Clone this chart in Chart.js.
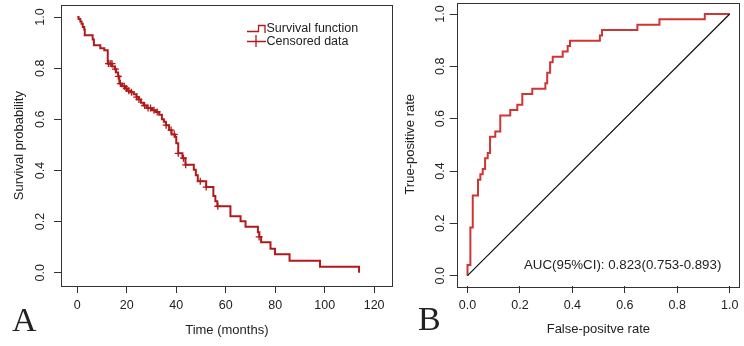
<!DOCTYPE html>
<html><head><meta charset="utf-8">
<script src="https://cdn.jsdelivr.net/npm/chart.js@4/dist/chart.umd.min.js"></script>
<style>
html,body{margin:0;padding:0;background:#fff;}
#wrap{position:relative;width:744px;height:346px;overflow:hidden;background:#fff;}
#cA{position:absolute;left:0;top:0;}
#cB{position:absolute;left:398px;top:0;}
</style></head><body>
<div id="wrap"><canvas id="cA" width="398" height="346"></canvas><canvas id="cB" width="346" height="346"></canvas></div>
<script>
// ---- Panel A: Kaplan-Meier survival ----
const kmTimes = [0, 0.5, 1.2, 1.7, 2.2, 2.8, 3.0, 6.2, 6.7, 9.3, 10.9, 12.3, 14.1, 15.2, 15.7, 16.5, 17.0, 18.1, 19.4, 20.2, 21.5, 22.8, 23.9, 24.7, 25.7, 26.8, 28.1, 30.2, 31.8, 33.1, 34.2, 35.0, 35.8, 37.1, 38.1, 39.5, 40.0, 40.8, 42.5, 43.7, 47.1, 47.9, 48.7, 52.1, 55.0, 55.8, 56.6, 61.9, 66.0, 68.0, 73.0, 73.6, 74.3, 78.1, 79.9, 85.8, 98.1, 113.9];
const kmSurv  = [1.0, 0.992, 0.983, 0.974, 0.961, 0.951, 0.929, 0.912, 0.890, 0.878, 0.870, 0.818, 0.807, 0.796, 0.783, 0.768, 0.740, 0.729, 0.721, 0.712, 0.706, 0.698, 0.687, 0.678, 0.665, 0.654, 0.644, 0.635, 0.629, 0.618, 0.600, 0.590, 0.577, 0.558, 0.541, 0.532, 0.506, 0.467, 0.448, 0.422, 0.403, 0.381, 0.358, 0.335, 0.300, 0.280, 0.260, 0.221, 0.201, 0.180, 0.158, 0.140, 0.119, 0.094, 0.072, 0.047, 0.023, 0.0];
const censorTimes = [12.6, 13.3, 14.0, 15.4, 16.6, 17.4, 19.0, 19.8, 20.8, 21.9, 24.0, 24.9, 27.2, 28.6, 29.6, 31.0, 32.3, 35.9, 37.9, 39.2, 40.8, 42.9, 43.8, 49.7, 52.1, 56.8, 73.5];
const censorSurv  = [0.818, 0.818, 0.818, 0.796, 0.768, 0.740, 0.729, 0.721, 0.712, 0.706, 0.687, 0.678, 0.654, 0.644, 0.644, 0.635, 0.629, 0.577, 0.558, 0.541, 0.467, 0.448, 0.422, 0.358, 0.335, 0.260, 0.140];
const timeTicks = [0, 20, 40, 60, 80, 100, 120];
const probTicks = [0, 0.2, 0.4, 0.6, 0.8, 1.0];
const legendLabels = ['Survival function', 'Censored data'];

// ---- Panel B: ROC ----
const rocFPR = [0, 0.011, 0.020, 0.040, 0.049, 0.058, 0.067, 0.077, 0.086, 0.106, 0.125, 0.163, 0.190, 0.209, 0.247, 0.297, 0.304, 0.315, 0.325, 0.363, 0.382, 0.391, 0.505, 0.513, 0.648, 0.732, 0.905, 1.0];
const rocTPR = [0, 0.041, 0.184, 0.306, 0.367, 0.388, 0.408, 0.449, 0.469, 0.531, 0.551, 0.612, 0.633, 0.653, 0.694, 0.714, 0.735, 0.776, 0.816, 0.837, 0.857, 0.878, 0.898, 0.918, 0.939, 0.959, 0.980, 1.0];
const refFPR = [0, 1];
const refTPR = [0, 1];
const rateTicks = [0, 0.2, 0.4, 0.6, 0.8, 1.0];
const aucText = 'AUC(95%CI): 0.823(0.753-0.893)';

const TXT = '#222';
const AXC = '#333';
const KMC = '#b11a1a';
const ROCC = '#d03535';
const SANS = '"Liberation Sans", Arial, sans-serif';
const SERIF = '"Liberation Serif", "Times New Roman", serif';
Chart.defaults.font.family = SANS;
Chart.defaults.color = TXT;

const pts = (xs, ys) => xs.map((x, i) => ({x: x, y: ys[i]}));

const boxPlugin = {
  id: 'box',
  afterDatasetsDraw(chart) {
    const a = chart.chartArea, c = chart.ctx;
    c.save();
    c.strokeStyle = AXC; c.lineWidth = 1;
    c.strokeRect(Math.round(a.left) + 0.5, Math.round(a.top) + 0.5, Math.round(a.right - a.left) - 1, Math.round(a.bottom - a.top));
    c.restore();
  }
};

function axisX(min, max, tickVals, fmt, title, titlePadBottom) {
  return {
    type: 'linear', min: min, max: max,
    afterBuildTicks(s) { s.ticks = tickVals.map(v => ({value: v})); },
    afterFit(s) { s.height = 60; s.paddingLeft = 0; s.paddingRight = 0; s.paddingTop = 0; s.paddingBottom = 0; },
    grid: { drawOnChartArea: false, drawTicks: true, tickLength: 7, color: AXC, lineWidth: 1 },
    border: { display: false },
    ticks: { font: { size: 12.5 }, color: TXT, padding: 5.5, maxRotation: 0, minRotation: 0, autoSkip: false, callback: fmt },
    title: { display: true, text: title, font: { size: 13 }, color: TXT, padding: { top: 0, bottom: titlePadBottom } }
  };
}
function axisY(min, max, tickVals, width, tickPad, title, titlePadTop) {
  return {
    type: 'linear', min: min, max: max,
    afterBuildTicks(s) { s.ticks = tickVals.map(v => ({value: v})); },
    afterFit(s) { s.width = width; s.paddingLeft = 0; s.paddingRight = 0; s.paddingTop = 0; s.paddingBottom = 0; },
    grid: { drawOnChartArea: false, drawTicks: true, tickLength: 7, color: AXC, lineWidth: 1 },
    border: { display: false },
    ticks: { font: { size: 12.5 }, color: TXT, padding: tickPad, minRotation: 90, maxRotation: 90, crossAlign: 'center', autoSkip: false, callback: v => Number(v).toFixed(1) },
    title: { display: true, text: title, font: { size: 13 }, color: TXT, padding: { top: titlePadTop, bottom: 0 } }
  };
}

const decorA = {
  id: 'decorA',
  afterDraw(chart) {
    const c = chart.ctx;
    c.save();
    // legend
    c.strokeStyle = KMC; c.lineWidth = 1.3;
    c.beginPath();
    c.moveTo(247, 31.5); c.lineTo(258.5, 31.5); c.lineTo(258.5, 25.5); c.lineTo(265, 25.5); c.lineTo(265, 33);
    c.stroke();
    c.beginPath();
    c.moveTo(247, 41.5); c.lineTo(266, 41.5);
    c.moveTo(256, 35); c.lineTo(256, 47);
    c.stroke();
    c.fillStyle = TXT; c.font = '12.5px ' + SANS; c.textBaseline = 'middle'; c.textAlign = 'left';
    c.fillText(legendLabels[0], 266.5, 29);
    c.fillText(legendLabels[1], 266.5, 41.5);
    // panel letter
    c.font = '34px ' + SERIF; c.textBaseline = 'alphabetic';
    c.fillText('A', 12, 331);
    c.restore();
  }
};
const decorB = {
  id: 'decorB',
  afterDraw(chart) {
    const c = chart.ctx;
    c.save();
    c.fillStyle = TXT; c.textBaseline = 'middle'; c.textAlign = 'left';
    c.font = '13.3px ' + SANS;
    c.fillText(aucText, 126, 265);
    c.font = '34px ' + SERIF; c.textBaseline = 'alphabetic';
    c.fillText('B', 20, 330);
    c.restore();
  }
};

new Chart(document.getElementById('cA'), {
  type: 'scatter',
  data: { datasets: [
    { label: legendLabels[0], data: pts(kmTimes, kmSurv), showLine: true, stepped: true, borderColor: KMC, borderWidth: 2, pointRadius: 0, fill: false, borderJoinStyle: 'miter' },
    { label: legendLabels[1], data: pts(censorTimes, censorSurv), showLine: false, pointStyle: 'cross', pointRadius: 3.5, borderColor: KMC, backgroundColor: KMC, pointBorderWidth: 1.3 }
  ]},
  options: {
    responsive: false, animation: false, devicePixelRatio: 1,
    layout: { padding: { left: 0, top: 2, right: 1.3, bottom: 0 } },
    plugins: { legend: { display: false }, tooltip: { enabled: false } },
    scales: {
      x: axisX(-6.6, 127.5, timeTicks, v => String(v), 'Time (months)', 7.5),
      y: axisY(-0.052, 1.046, probTicks, 61, 4.4, 'Survival probability', 12)
    }
  },
  plugins: [boxPlugin, decorA]
});

new Chart(document.getElementById('cB'), {
  type: 'scatter',
  data: { datasets: [
    { label: 'reference', data: pts(refFPR, refTPR), showLine: true, borderColor: '#111', borderWidth: 1.2, pointRadius: 0, fill: false },
    { label: 'ROC', data: pts(rocFPR, rocTPR), showLine: true, stepped: 'after', borderColor: ROCC, borderWidth: 2, pointRadius: 0, fill: false, borderJoinStyle: 'miter' }
  ]},
  options: {
    responsive: false, animation: false, devicePixelRatio: 1,
    layout: { padding: { left: 0, top: 2.5, right: 4, bottom: 0 } },
    plugins: { legend: { display: false }, tooltip: { enabled: false } },
    scales: {
      x: axisX(-0.0412, 1.0393, rateTicks, v => Number(v).toFixed(1), 'False-positve rate', 9),
      y: axisY(-0.0394, 1.044, rateTicks, 58.7, 0, 'True-positive rate', 5)
    }
  },
  plugins: [boxPlugin, decorB]
});
</script>
</body></html>
